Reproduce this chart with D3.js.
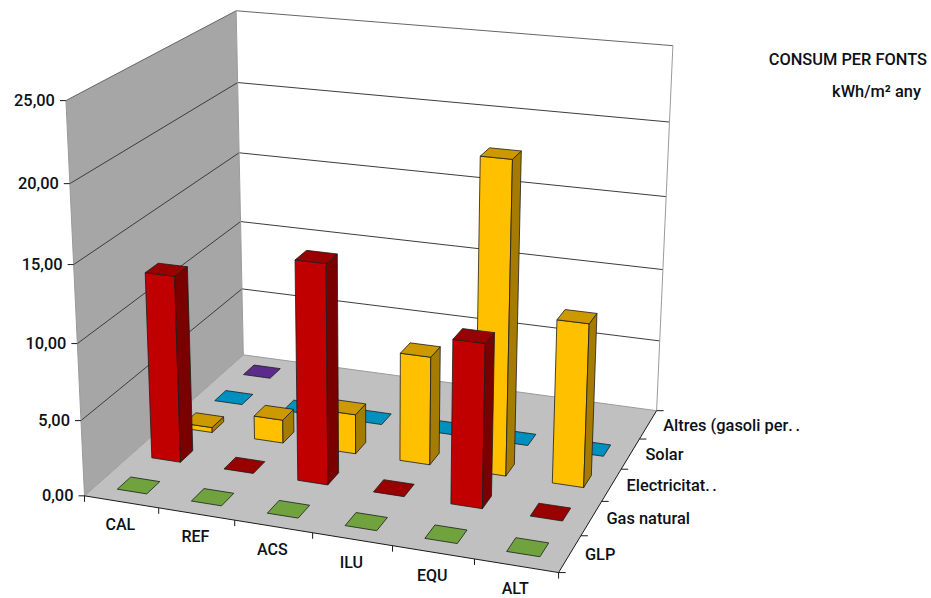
<!DOCTYPE html>
<html>
<head>
<meta charset="utf-8">
<title>Consum per fonts</title>
<script src="https://cdn.jsdelivr.net/npm/d3@7/dist/d3.min.js"></script>
<style>
  html, body { margin: 0; padding: 0; background: #fff; }
  svg { display: block; }
  text { font-family: Roboto, "Noto Sans", sans-serif; font-weight: 500; fill: #0c1118; font-size: 16.4px; }
  text.cat { font-size: 16px; }
</style>
</head>
<body>
<svg id="chart" width="931" height="598"></svg>
<script>
// Chart data
const categories = ["CAL", "REF", "ACS", "ILU", "EQU", "ALT"];
const seriesNames = ["GLP", "Gas natural", "Electricitat..", "Solar", "Altres (gasoli per.."];
const glp         = [0, 0, 0, 0, 0, 0];
const gasNatural  = [12.5, 0, 14.5, 0, 10.7, 0];
const electricitat = [0.35, 1.6, 2.7, 7.3, 20.6, 10.8];
const solar       = [0, 0, 0, 0, 0, 0];
const altres      = [0, null, null, null, null, null];
const seriesValues = [glp, gasNatural, electricitat, solar, altres];
const valueTicks = [0, 5, 10, 15, 20, 25];

// Face colours per series: front, top, side
const frontColors = ["#70a33e", "#c00000", "#ffc000", "#0090c0", "#5b2a8a"];
const topColors   = ["#70a33e", "#990000", "#cc9a00", "#0090c0", "#5b2a8a"];
const sideColors  = ["#557a2e", "#7a0000", "#a67c00", "#006c90", "#442068"];

// Camera calibration: unit-cube corners and where they land on the page
const cubeCorners = [[0,0,0],[1,0,0],[0,1,0],[1,1,0],[0,0,1],[0,1,1],[1,1,1]];
const pageCorners = [[85,496],[558,573],[243,355],[657,410],[66,100],[236,11],[673,46]];

// Least-squares fit of a 3x4 projective camera
function fitCamera(world, page) {
  const n = 11, M = d3.range(n).map(() => new Array(n + 1).fill(0));
  const add = (row, rhs) => {
    for (let i = 0; i < n; i++) {
      for (let j = 0; j < n; j++) M[i][j] += row[i] * row[j];
      M[i][n] += row[i] * rhs;
    }
  };
  world.forEach(([x, y, z], k) => {
    const [X, Y] = page[k];
    add([x, y, z, 1, 0, 0, 0, 0, -X * x, -X * y, -X * z], X);
    add([0, 0, 0, 0, x, y, z, 1, -Y * x, -Y * y, -Y * z], Y);
  });
  for (let c = 0; c < n; c++) {
    let p = c;
    for (let r = c + 1; r < n; r++) if (Math.abs(M[r][c]) > Math.abs(M[p][c])) p = r;
    [M[c], M[p]] = [M[p], M[c]];
    for (let r = 0; r < n; r++) {
      if (r === c) continue;
      const f = M[r][c] / M[c][c];
      for (let j = c; j <= n; j++) M[r][j] -= f * M[c][j];
    }
  }
  return M.map((row, i) => row[n] / row[i]);
}
const cam = fitCamera(cubeCorners, pageCorners);
const project = (u, v, w) => {
  const d = cam[8] * u + cam[9] * v + cam[10] * w + 1;
  return [(cam[0] * u + cam[1] * v + cam[2] * w + cam[3]) / d,
          (cam[4] * u + cam[5] * v + cam[6] * w + cam[7]) / d];
};

// Scales onto the unit cube; bars sit slightly left of their category centre
const uScale = d3.scaleBand().domain(categories).range([-0.001, 0.999]).paddingInner(0.6).paddingOuter(0.3);
const vScale = d3.scaleBand().domain(seriesNames).range([0, 1]).paddingInner(0.62).paddingOuter(0.31);
const wScale = d3.scaleLinear().domain([0, 25]).range([0, 1]);

const svg = d3.select("#chart");
const line = d3.line();
const poly = pts => line(pts) + "Z";
const at = (u, v, w) => project(u, v, w);

// Walls and floor
const walls = svg.append("g");
walls.append("path").attr("d", poly([at(0,0,0), at(0,1,0), at(0,1,1), at(0,0,1)])).attr("fill", "#a6a6a6");
walls.append("path").attr("d", poly([at(0,1,0), at(1,1,0), at(1,1,1), at(0,1,1)])).attr("fill", "#ffffff");
walls.append("path").attr("d", poly([at(0,0,0), at(1,0,0), at(1,1,0), at(0,1,0)])).attr("fill", "#c0c0c0");

// Gridlines along both walls
walls.selectAll("path.grid").data(valueTicks.slice(1)).join("path")
  .attr("class", "grid")
  .attr("d", d => { const w = wScale(d); return line([at(0,0,w), at(0,1,w), at(1,1,w)]); })
  .attr("fill", "none").attr("stroke", d => d === 25 ? "#666" : "#3c3c3c").attr("stroke-width", 1);

// Wall outlines
[[[0,0,0],[0,0,1]], [[0,1,0],[0,1,1]], [[1,1,0],[1,1,1]], [[0,1,0],[1,1,0]], [[0,0,0],[0,1,0]]].forEach(([a, b]) => {
  walls.append("path").attr("d", line([at(...a), at(...b)]))
    .attr("stroke", "#9a9a9a").attr("stroke-width", 1).attr("fill", "none");
});

// Floor axes and tick marks
const axes = svg.append("g").attr("stroke", "#1a1a1a").attr("stroke-width", 1).attr("fill", "none");
axes.append("path").attr("d", line([at(0,0,0), at(1,0,0), at(1,1,0)]));
const stepU = uScale.step(), stepV = vScale.step();
axes.selectAll("path.cx").data(d3.range(categories.length + 1)).join("path").attr("class", "cx")
  .attr("d", i => { const [x, y] = at(i * stepU, 0, 0); return line([[x, y], [x, y + 6]]); });
axes.selectAll("path.sx").data(d3.range(seriesNames.length + 1)).join("path").attr("class", "sx")
  .attr("d", i => { const [x, y] = at(1, i * stepV, 0); return line([[x, y], [x + 7, y]]); });
axes.selectAll("path.vx").data(valueTicks).join("path").attr("class", "vx")
  .attr("d", d => { const [x, y] = at(0, 0, wScale(d)); return line([[x, y], [x - 6, y]]); });

// Bars, painted from the back row forward
const bars = [];
seriesValues.forEach((vals, s) => vals.forEach((value, c) => {
  if (value !== null) bars.push({ s, c, value });
}));
bars.sort((a, b) => b.s - a.s || a.c - b.c);

const barG = svg.selectAll("g.bar").data(bars).join("g").attr("class", "bar")
  .attr("stroke", "#1c1c1c").attr("stroke-width", 0.8).attr("stroke-linejoin", "round");

barG.each(function (d) {
  const g = d3.select(this);
  const u0 = uScale(categories[d.c]), u1 = u0 + uScale.bandwidth();
  const v0 = vScale(seriesNames[d.s]), v1 = v0 + vScale.bandwidth();
  const h = wScale(d.value);
  if (d.value > 0) {
    g.append("path").attr("fill", frontColors[d.s])
      .attr("d", poly([at(u0,v0,0), at(u1,v0,0), at(u1,v0,h), at(u0,v0,h)]));
    g.append("path").attr("fill", sideColors[d.s])
      .attr("d", poly([at(u1,v0,0), at(u1,v1,0), at(u1,v1,h), at(u1,v0,h)]));
  }
  g.append("path").attr("fill", topColors[d.s])
    .attr("d", poly([at(u0,v0,h), at(u1,v0,h), at(u1,v1,h), at(u0,v1,h)]));
});

// Value axis labels
const commaFormat = d3.formatLocale({ decimal: ",", thousands: ".", grouping: [3], currency: ["", ""] }).format(".2f");
svg.selectAll("text.val").data(valueTicks).join("text").attr("class", "val")
  .attr("text-anchor", "end").attr("dominant-baseline", "central")
  .attr("x", d => at(0, 0, wScale(d))[0] - 11)
  .attr("y", d => at(0, 0, wScale(d))[1])
  .text(d => commaFormat(d));

// Category labels under the front edge
const catCentre = d => at((categories.indexOf(d) + 0.5) * stepU, 0, 0);
svg.selectAll("text.cat").data(categories).join("text").attr("class", "cat")
  .attr("text-anchor", "middle").attr("dominant-baseline", "central")
  .attr("x", d => catCentre(d)[0] - 1)
  .attr("y", d => catCentre(d)[1] + 23)
  .text(d => d);

// Series labels beside the right edge; trailing dots of truncated names are spaced out
const serLabels = svg.selectAll("text.ser").data(seriesNames).join("text").attr("class", "ser")
  .attr("text-anchor", "start").attr("dominant-baseline", "central")
  .attr("x", d => at(1, vScale(d) + vScale.bandwidth() / 2, 0)[0] + 15)
  .attr("y", d => at(1, vScale(d) + vScale.bandwidth() / 2, 0)[1]);
serLabels.append("tspan").text(d => d.replace(/\.\.$/, ""));
serLabels.append("tspan").attr("letter-spacing", "2.5px").text(d => d.endsWith("..") ? ".." : "");

// Title block
svg.append("text").attr("x", 927).attr("y", 59).attr("text-anchor", "end")
  .attr("dominant-baseline", "central").text("CONSUM PER FONTS");
svg.append("text").attr("x", 921).attr("y", 91).attr("text-anchor", "end")
  .attr("dominant-baseline", "central").text("kWh/m² any");
</script>
</body>
</html>
